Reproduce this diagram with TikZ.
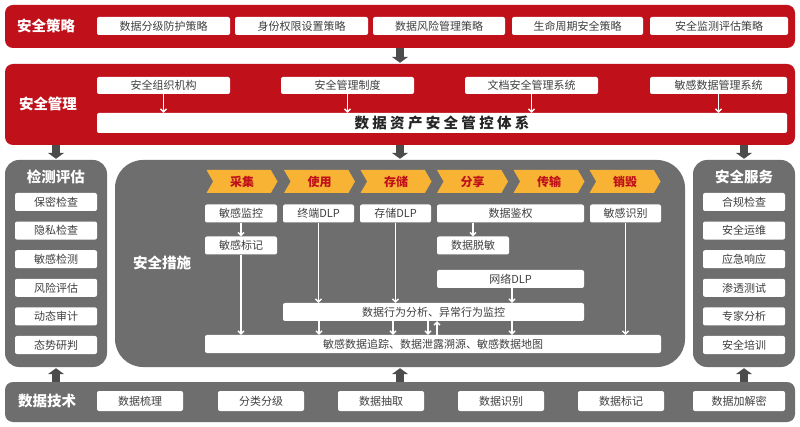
\documentclass[tikz,border=0pt]{standalone}
\usepackage{fontspec}
\setmainfont{Noto Sans CJK SC}
\usetikzlibrary{shapes.symbols,arrows.meta}
\definecolor{bandred}{HTML}{C0101A}
\definecolor{panelgray}{HTML}{6E6E6E}
\definecolor{stepyellow}{HTML}{F8B334}
\tikzset{
  band/.style={fill=bandred, rounded corners=8pt, inner sep=0},
  panel/.style={fill=panelgray, rounded corners=14pt, inner sep=0},
  box/.style={fill=white, rounded corners=2pt, inner sep=0, minimum height=18pt, font=\fontsize{11}{13}\selectfont, text=black!75},
  title/.style={text=white, font=\fontsize{14.5}{16}\selectfont\bfseries},
  stage/.style={signal, signal from=west, signal to=east, signal pointer angle=120, fill=stepyellow, inner sep=0, minimum width=71pt, minimum height=23pt, text=bandred, font=\fontsize{12}{14}\selectfont\bfseries},
  blk/.style={draw=black!70, line width=8pt, -{Triangle[length=6pt,width=16pt]}, shorten >=1pt},
  warr/.style={draw=white, line width=1.3pt, -{Straight Barb[length=3pt,width=6pt]}},
}
\begin{document}
\begin{tikzpicture}[x=1pt,y=-1pt]
\useasboundingbox[fill=white] (0,0) rectangle (800,427);
% bands and panels
\node[band, minimum width=790pt, minimum height=43pt] (pol) at (400,26.5) {};
\node[band, minimum width=790pt, minimum height=81pt] (mgt) at (400,104.5) {};
\node[panel, minimum width=102pt, minimum height=207pt] (det) at (56,263.5) {};
\node[panel, minimum width=570pt, minimum height=207pt, rounded corners=28pt] (mea) at (400,263.5) {};
\node[panel, minimum width=102pt, minimum height=207pt] (svc) at (744,263.5) {};
\node[panel, minimum width=790pt, minimum height=40pt, rounded corners=8pt] (tec) at (400,402) {};
% band labels
\node[title] at (46,26) {安全策略};
\node[title] at (48,104) {安全管理};
\node[title] at (56,177) {检测评估};
\node[title] at (744,177) {安全服务};
\node[title] at (162,263) {安全措施};
\node[title] at (47,401) {数据技术};
% policy boxes
\node[box, minimum width=133pt] (p1) at (163.5,26) {数据分级防护策略};
\node[box, minimum width=133pt] (p2) at (301.5,26) {身份权限设置策略};
\node[box, minimum width=132pt] (p3) at (439,26) {数据风险管理策略};
\node[box, minimum width=131pt] (p4) at (577.5,26) {生命周期安全策略};
\node[box, minimum width=138pt] (p5) at (719,26) {安全监测评估策略};
% management boxes
\node[box, minimum width=133pt, minimum height=17pt] (m1) at (163.5,85.5) {安全组织机构};
\node[box, minimum width=133pt, minimum height=17pt] (m2) at (347.5,85.5) {安全管理制度};
\node[box, minimum width=133pt, minimum height=17pt] (m3) at (531.5,85.5) {文档安全管理系统};
\node[box, minimum width=137pt, minimum height=17pt] (m4) at (718.5,85.5) {敏感数据管理系统};
\node[box, minimum width=690pt, minimum height=20pt, font=\fontsize{14.5}{16}\selectfont\bfseries, text=black!85] (sys) at (442,123) {数 据 资 产 安 全 管 控 体 系};
\foreach \m in {m1,m2,m3,m4}
  \draw[warr] (\m.south) -- (\m.south |- sys.north);
% detection boxes
\foreach \t [count=\i] in {保密检查,隐私检查,敏感检测,风险评估,动态审计,态势研判}
  \node[box, minimum width=82pt] (d\i) at (56,{202+28.6*(\i-1)}) {\t};
% service boxes
\foreach \t [count=\i] in {合规检查,安全运维,应急响应,渗透测试,专家分析,安全培训}
  \node[box, minimum width=82pt] (s\i) at (744,{202+28.6*(\i-1)}) {\t};
% lifecycle steps
\foreach \t/\x [count=\i] in {采集/242,使用/319.5,存储/396,分享/472.5,传输/549,销毁/625}
  \node[stage] (st\i) at (\x,181.5) {\t};
% measures
\node[box, minimum width=72pt] (mon) at (241,213.5) {敏感监控};
\node[box, minimum width=71pt] (edlp) at (318.5,213.5) {终端DLP};
\node[box, minimum width=71pt] (sdlp) at (395.5,213.5) {存储DLP};
\node[box, minimum width=147pt] (auth) at (510.5,213.5) {数据鉴权};
\node[box, minimum width=71pt] (ident) at (625.5,213.5) {敏感识别};
\node[box, minimum width=72pt] (mark) at (241,245.5) {敏感标记};
\node[box, minimum width=72pt] (mask) at (473,245.5) {数据脱敏};
\node[box, minimum width=147pt] (ndlp) at (510.5,279) {网络DLP};
\node[box, minimum width=301pt] (beh) at (433.5,312) {数据行为分析、异常行为监控};
\node[box, minimum width=456pt] (trace) at (433,344) {敏感数据追踪、数据泄露溯源、敏感数据地图};
% measure arrows
\draw[warr] (mon) -- (mark);
\draw[warr] (auth.south -| mask) -- (mask);
\draw[warr] (mark) -- (mark |- trace.north);
\draw[warr] (edlp) -- (edlp |- beh.north);
\draw[warr] (sdlp) -- (sdlp |- beh.north);
\draw[warr] (ndlp.south -| 512,0) -- (beh.north -| 512,0);
\draw[warr] (ident) -- (ident |- trace.north);
\foreach \x in {319,393,512,428}
  \draw[warr] (beh.south -| \x,0) -- (trace.north -| \x,0);
\draw[warr] (trace.north -| 437,0) -- (beh.south -| 437,0);
% technology boxes
\foreach \t/\x in {数据梳理/140,分类分级/261,数据抽取/381,数据识别/501,数据标记/621}
  \node[box, minimum width=86pt, minimum height=20pt] at (\x,401) {\t};
\node[box, minimum width=92pt, minimum height=20pt] (enc) at (739,401) {数据加解密};
% block arrows
\draw[blk] (pol.south) -- (mgt.north);
\foreach \p in {det,mea,svc}
  \draw[blk] (\p.north |- mgt.south) -- (\p.north);
\foreach \p in {det,mea,svc}
  \draw[blk] (\p.south |- tec.north) -- (\p.south);
\end{tikzpicture}
\end{document}
